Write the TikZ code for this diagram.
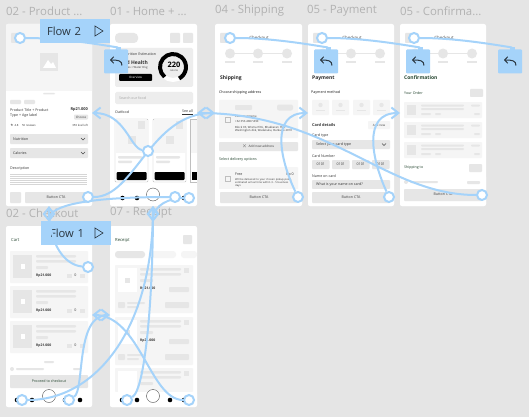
\documentclass[tikz,border=0pt]{standalone}
\usepackage{fontspec}
\setmainfont{Open Sans}
\usetikzlibrary{arrows.meta}

\definecolor{canvasgray}{HTML}{E5E5E5}
\definecolor{blockgray}{HTML}{E6E6E6}
\definecolor{palegray}{HTML}{F5F5F5}
\definecolor{titlegray}{HTML}{B2B2B2}
\definecolor{wireblue}{HTML}{A5D3FA}
\definecolor{inkdark}{HTML}{2A3640}
\definecolor{inkgreen}{HTML}{24452F}

\pgfdeclarelayer{top}
\pgfsetlayers{main,top}

\tikzset{
  screen/.style={fill=white,rounded corners=2pt},
  gb/.style={fill=blockgray,rounded corners=0.8pt},
  pb/.style={fill=palegray,rounded corners=0.8pt},
  ttl/.style={anchor=west,inner sep=0pt,text=titlegray,font=\fontsize{11.4}{12}\selectfont},
  lbl/.style={anchor=west,inner sep=0pt,text=black!80,font=\fontsize{3.6}{4.2}\selectfont},
  lblb/.style={lbl,font=\fontsize{3.9}{4.6}\selectfont\bfseries},
  head/.style={lbl,text=inkgreen,font=\fontsize{5}{6}\selectfont\bfseries},
  btn/.style={inner sep=0pt,text=black!75,font=\fontsize{3.6}{4.2}\selectfont},
  flowbox/.style={fill=wireblue,text=inkdark,minimum width=70pt,minimum height=24pt,inner sep=0pt,
    text width=56pt,font=\fontsize{11.2}{12}\selectfont},
  backbox/.style={fill=wireblue,rounded corners=1pt,minimum width=24pt,minimum height=24pt,inner sep=0pt},
  hub/.style={circle,draw=wireblue,fill=white,line width=2pt,minimum size=10pt,inner sep=0pt},
  wire/.style={draw=wireblue,line width=2pt},
  undosign/.pic={
    \fill[wireblue] (0,-14.5) rectangle (5,-11);
    \draw[inkdark,line width=1pt,-{Straight Barb[length=3pt,width=6.5pt]}] (6,4) .. controls (6,-1) and (2,-1.5) .. (-6,-1.5);
  }
}

\begin{document}
\begin{tikzpicture}[x=1pt,y=-1pt,>={Straight Barb[length=7pt,width=11pt]}]

\fill[canvasgray] (0,0) rectangle (529,417);

% screens
\foreach \xa/\ya/\xb/\yb in {6/24/92/206,110/24/197/206,215/24/302/206,308/24/394/206,400/24/486/206,6/226/92/407,110/226/197/407}
  \fill[screen] (\xa,\ya) rectangle (\xb,\yb);

\node[ttl] (ttlprod) at (6,11) {02 - Product ...};
\node[ttl] (ttlhome) at (110,11) {01 - Home + ...};
\node[ttl] (ttlship) at (215,11) {04 - Shipping};
\node[ttl] (ttlpay) at (307,11) {05 - Payment};
\node[ttl] (ttlconf) at (400,11) {05 - Confirma...};
\node[ttl] (ttlcart) at (6,213) {02 - Checkout};
\node[ttl] (ttlrec) at (110,213) {07 - Receipt};

% product
\fill[palegray] (6,26) -- (6,91) -- (92,91) -- (92,26) [rounded corners=2pt] -- (92,24) -- (6,24) -- cycle;
\fill[gb] (11,33) rectangle (24,43);
\fill[blockgray] (40,53) rectangle (58,71);
\fill[white] (43,68) -- (48,60) -- (51,64) -- (53,62) -- (56,68) -- cycle;
\fill[gb] (43,93) rectangle (55,94.5);
\fill[gb] (10,100) rectangle (21,104);
\fill[gb] (24,100) rectangle (35,104);
\node[lbl] (prodname) at (10,110) {Product Title + Product};
\node[lbl] (prodtype) at (10,115.5) {Type + Age label};
\node[lblb,anchor=east] (prodprice) at (88,110) {Rp21.000};
\fill[gb] (74,114.5) rectangle (88,119.5);
\node[btn,font=\fontsize{3}{3.5}\selectfont] (prodchoose) at (81,117) {Choose};
\node[lbl,font=\fontsize{2.8}{3.5}\selectfont] (prodrate) at (10,125) {$\star$ 4.8 \quad 56 reviews};
\node[lbl,anchor=east,font=\fontsize{2.8}{3.5}\selectfont] (prodstock) at (88,125) {350 kcal left};
\foreach \ya/\nm/\tx in {134/nutri/Nutrition,148/calo/Calories}{
  \fill[gb] (10,\ya) rectangle (88,\ya+10);
  \node[lbl] (\nm) at (13,\ya+5) {\tx};
  \draw[black!70,line width=0.4pt] (81,\ya+4) -- (83,\ya+6) -- (85,\ya+4);
}
\node[lbl] (proddesc) at (10,169) {Description};
\foreach \ya in {174,176,178,180,182,184}
  \fill[black!16] (10,\ya) rectangle (87,\ya+0.8);
\fill[screen] (6,189) rectangle (92,206);
\fill[gb] (10,192) rectangle (21,203);
\fill[gb] (25,192) rectangle (88,203);
\node[btn] (prodcta) at (56,197.5) {Button CTA};

% home
\fill[gb,rounded corners=4pt] (115,33) rectangle (138,43);
\fill[gb] (170,33) rectangle (180,43);
\fill[gb] (183,33) rectangle (193,43);
\fill[blockgray!70,rounded corners=1.5pt] (115,48) rectangle (193,87);
\node[lbl] (homeest) at (122,54) {Nutrition Estimation};
\node[lblb,anchor=east,font=\fontsize{5}{6}\selectfont\bfseries] (homegood) at (148,63) {Good Health};
\node[lbl,font=\fontsize{2.8}{3.5}\selectfont] (homesub) at (120,68) {Calories + Water 8 kg};
\fill[black,rounded corners=1pt] (119,74) rectangle (152,81);
\node[btn,text=white,font=\fontsize{3}{3.5}\selectfont] (homeover) at (135.5,77.5) {Overview};
\draw[white,line width=4pt] (173,67) circle [radius=13pt];
\draw[black,line width=4pt] (173,67) ++(230:13pt) arc [start angle=230,end angle=-62,radius=13pt];
\node[inner sep=0pt,font=\fontsize{7.5}{8}\selectfont\bfseries] (homecal) at (174,65) {220};
\node[btn,font=\fontsize{2.6}{3}\selectfont] (homeunit) at (174,71) {calorie};
\fill[blockgray!70,rounded corners=1.5pt] (115,92) rectangle (193,104);
\node[lbl,text=black!35] (homesearch) at (119,98) {Search our food};
\node[lbl] (homeoat) at (115,112) {Oatfood};
\node[lbl,anchor=east] (homesee) at (193,112) {\underline{See all}};
\foreach \xa/\xb in {115/148,153/186}{
  \draw[black!25,line width=0.4pt,rounded corners=1pt] (\xa,119) rectangle (\xb,182);
  \fill[palegray] (\xa+0.5,119.5) rectangle (\xb-0.5,153);
  \fill[blockgray] (\xb-10,121) rectangle (\xb-3,129);
  \fill[blockgray] (\xa+13,136) rectangle (\xa+21,144);
  \fill[gb] (\xa+3,156) rectangle (\xb-6,158.5);
  \fill[gb] (\xa+3,160.5) rectangle (\xa+17,163);
  \fill[black,rounded corners=1pt] (\xa+1.5,172) rectangle (\xb-1.5,180);
}
\draw[black!25,line width=0.4pt] (197,119) -- (190,119) -- (190,182) -- (197,182);
\fill[palegray] (190.5,119.5) rectangle (197,153);
\fill[black] (191.5,172) rectangle (197,180);
\foreach \xa in {122.5,137,175,184}
  \fill[black] (\xa,198) circle [radius=2.3pt];
\draw[black!70,fill=white,line width=0.4pt] (153,194.5) circle [radius=6.5pt];

% checkout header, shared by three screens
\foreach \fx/\nm in {215/ship,308/pay,400/conf}{
  \begin{scope}[shift={(\fx,0)}]
    \fill[gb] (5,33) rectangle (18,43);
    \node[btn,font=\fontsize{4.4}{5}\selectfont] (chk\nm) at (44,38) {Checkout};
    \draw[blockgray,line width=0.6pt] (15,53.5) -- (72,53.5);
    \foreach \xa in {15,43,72}{
      \fill[blockgray] (\xa,53.5) circle [radius=5pt];
      \fill[blockgray] (\xa-5,61.5) rectangle (\xa+5,63.5);
    }
  \end{scope}
}

% shipping
\node[head,text=black!85] (shiphead) at (220,78) {Shipping};
\node[lbl,text=black!90] (shipaddr) at (219,93) {Choose shipping address};
\fill[pb] (219,100) rectangle (298,138);
\fill[gb] (235,105) rectangle (252,110);
\fill[gb,rounded corners=2pt] (277,104.5) rectangle (293,110.5);
\draw[black!25,line width=0.4pt] (225,117) rectangle (230,122);
\node[lbl,font=\fontsize{2.8}{3.5}\selectfont] (shipname) at (235,116.5) {Customer Name};
\node[lbl,font=\fontsize{2.8}{3.5}\selectfont] (shipphone) at (235,121.5) {+62 353-4867-890};
\node[lbl,font=\fontsize{2.8}{3.3}\selectfont,text width=58pt,anchor=north west] (shipstreet) at (235,126) {Block 03, Wisma Elmi, Bhakkaran Hya, Washington dkk, Wadakuku, Burkudu 2010};
\fill[gb] (219,142) rectangle (298,151);
\node[btn,font=\fontsize{3.2}{4}\selectfont] (shipnew) at (258,146.5) {$\times$\, Add new address};
\node[lbl,text=inkgreen] (shipopt) at (219,160) {Select delivery options};
\fill[pb] (219,167) rectangle (298,190);
\draw[black!25,line width=0.4pt] (225,176) rectangle (230,181);
\node[lbl] (shipfree) at (235,174.5) {Free};
\node[lbl,anchor=east] (shiprp) at (294,174.5) {Rp 0};
\node[lbl,font=\fontsize{2.6}{3.2}\selectfont,text width=58pt,anchor=north west] (shipnote) at (235,178) {Will be delivered to your chosen pickup point, estimated arrival time within 3 - 5 business days};
\fill[screen] (215,189) rectangle (302,206);
\fill[gb] (220,192) rectangle (298,203);
\node[btn] (ctaship) at (259,197.5) {Button CTA};

% payment
\node[head,text=black!85] (payhead) at (312,78) {Payment};
\node[lbl,text=black!90] (paymeth) at (311,93) {Payment method};
\foreach \xa in {312,332,353,373}{
  \fill[pb] (\xa,100) rectangle (\xa+17,115);
  \fill[blockgray] (\xa+8.5,105) circle [radius=2.2pt];
  \fill[blockgray] (\xa+4,109.5) rectangle (\xa+13,111);
}
\node[lblb] (paydet) at (312,125) {Card details};
\fill[pb] (368,121) rectangle (390,129);
\node[btn,font=\fontsize{3}{3.5}\selectfont] (paynew) at (379,125) {Add new};
\node[lbl] (paytype) at (312,136) {Card type};
\fill[gb] (312,140) rectangle (390,149);
\node[lbl] (payselect) at (316,144.5) {Select your card type};
\draw[black!70,line width=0.4pt] (382,143.5) -- (384,145.5) -- (386,143.5);
\node[lbl] (paynum) at (312,156) {Card Number};
\foreach \xa/\nm in {312/a,332/b,352/c,372/d}{
  \fill[gb] (\xa,160) rectangle (\xa+17.5,169);
  \node[btn] (paydig\nm) at (\xa+8.75,164.5) {0101};
}
\node[lbl] (payname) at (312,176) {Name on card};
\fill[gb] (312,180) rectangle (390,189);
\node[lbl] (payask) at (316,184.5) {What is your name on card?};
\fill[screen] (308,189) rectangle (394,206);
\fill[gb] (312,192) rectangle (390,203);
\node[btn] (ctapay) at (351,197.5) {Button CTA};

% confirmation
\node[head] (confhead) at (404,78) {Confirmation};
\node[lbl,text=inkgreen] (conford) at (404,93) {Your Order};
\fill[gb] (470,89) rectangle (483,97);
\foreach \ya in {102,122,142}{
  \fill[pb] (404,\ya) rectangle (482,\ya+16);
  \fill[blockgray] (407,\ya+3) rectangle (416,\ya+13);
  \fill[gb] (421,\ya+2.5) rectangle (464,\ya+4.5);
  \fill[gb] (421,\ya+6) rectangle (464,\ya+8);
  \fill[gb] (421,\ya+11) rectangle (431,\ya+13);
  \fill[gb] (435,\ya+11) rectangle (441,\ya+13);
  \fill[gb] (471,\ya+2.5) rectangle (480,\ya+4.5);
  \fill[gb] (474,\ya+11) rectangle (480,\ya+13);
}
\node[lbl,text=inkgreen] (confto) at (404,168) {Shipping to};
\fill[gb] (469,164) rectangle (482,172);
\fill[screen] (400,175) rectangle (486,206);
\fill[blockgray] (406,182) circle [radius=2pt];
\fill[gb] (410,181) rectangle (438,183);
\fill[gb] (467,181) rectangle (480,184);
\fill[gb] (404,189) rectangle (482,201);
\node[btn] (ctaconf) at (443,194.5) {Button CTA};

% cart
\node[lbl,text=inkgreen,font=\fontsize{4.2}{5}\selectfont] (carthead) at (11,240) {Cart};
\foreach \ya/\nm in {251/a,286/b,321/c}{
  \fill[pb] (10,\ya) rectangle (88,\ya+32);
  \fill[blockgray] (13,\ya+4) rectangle (32,\ya+27);
  \fill[white] (20.5,\ya+13) rectangle (25,\ya+17.5);
  \fill[gb] (36,\ya+4) rectangle (76,\ya+6.5);
  \fill[gb] (36,\ya+9) rectangle (76,\ya+11.5);
  \fill[gb] (36,\ya+15) rectangle (48,\ya+18);
  \node[lblb,font=\fontsize{3.4}{4}\selectfont\bfseries] (cartrp\nm) at (36,\ya+24.5) {Rp21.000};
  \fill[blockgray] (67,\ya+22.5) rectangle (72,\ya+27);
  \node[btn] (cartqty\nm) at (75.5,\ya+24.7) {0};
  \fill[blockgray] (80,\ya+22.5) rectangle (85,\ya+27);
}
\fill[screen] (6,360) rectangle (92,407);
\fill[gb] (44,361) rectangle (54,363);
\fill[blockgray] (12,369) circle [radius=2pt];
\fill[gb] (16,368) rectangle (44,370);
\fill[gb] (73,368) rectangle (81,370);
\fill[gb] (10,375) rectangle (88,388);
\node[btn,text=inkgreen] (cartcta) at (49,381.5) {Proceed to checkout};
\foreach \xa in {17,32,65,80}
  \fill[black] (\xa,400) circle [radius=2.3pt];
\draw[black!70,fill=white,line width=0.4pt] (49,396) circle [radius=6.5pt];

% receipt
\node[lbl,text=inkgreen,font=\fontsize{4.2}{5}\selectfont] (rechead) at (115,240) {Receipt};
\fill[gb] (183,235) rectangle (192,244);
\fill[gb,rounded corners=3pt] (115,251) rectangle (145,258);
\fill[pb,rounded corners=3pt] (150,251) rectangle (176,258);
\fill[pb,rounded corners=3pt] (181,251) rectangle (197,258);
\foreach \ya/\nm in {265/a,317/b}{
  \fill[pb] (115,\ya) rectangle (193,\ya+48);
  \fill[white] (118,\ya+3) rectangle (137,\ya+27);
  \fill[blockgray] (125,\ya+13) rectangle (130,\ya+18);
  \fill[gb] (140,\ya+3) rectangle (181,\ya+5.5);
  \fill[gb] (140,\ya+8) rectangle (181,\ya+10.5);
  \fill[gb] (140,\ya+14) rectangle (153,\ya+17);
  \fill[blockgray] (184,\ya+3) rectangle (189,\ya+8);
  \node[lblb,font=\fontsize{3.4}{4}\selectfont\bfseries] (recrp\nm) at (140,\ya+24) {Rp21.000};
  \fill[gb] (169,\ya+22) rectangle (189,\ya+27);
  \fill[gb] (118,\ya+37) rectangle (125,\ya+43);
  \fill[gb] (127,\ya+37) rectangle (145,\ya+39);
  \fill[gb] (127,\ya+41) rectangle (139,\ya+43);
  \fill[gb] (165,\ya+37) rectangle (189,\ya+43);
}
\fill[pb] (115,368) rectangle (193,392);
\fill[white] (118,371) rectangle (137,392);
\fill[gb] (140,371) rectangle (181,373.5);
\fill[gb] (140,376) rectangle (181,378.5);
\fill[gb] (140,382) rectangle (153,385);
\fill[blockgray] (184,371) rectangle (189,376);
\fill[screen] (110,392) rectangle (197,407);
\foreach \xa in {122,137,170,184}
  \fill[black] (\xa,400) circle [radius=2.3pt];
\draw[black!70,fill=white,line width=0.4pt] (153,396) circle [radius=6.5pt];

% flow labels, back boxes
\node[flowbox] (flowtwo) at (75,31) {Flow 2};
\draw[inkdark,line width=0.6pt] (95,26) -- (103,31) -- (95,36) -- cycle;
\node[flowbox] (flowone) at (76,233) {\hspace*{2pt}Flow 1};
\draw[inkdark,line width=0.6pt] (95,228) -- (103,233) -- (95,238) -- cycle;

\node[backbox] (backhome) at (116,61.5) {};
\node[backbox] (backpay) at (326,61.5) {};
\node[backbox] (backconf) at (418,61.5) {};
\node[backbox] (backend) at (510,61.5) {};
\pic (undohome) at (backhome) {undosign};
\pic (undopay) at (backpay) {undosign};
\pic (undoconf) at (backconf) {undosign};
\pic (undoend) at (backend) {undosign};

% hotspots
\begin{pgfonlayer}{top}
\node[hub] (hubprodback) at (20,38) {};
\node[hub] (hubshipback) at (230,38) {};
\node[hub] (hubpayback) at (322,38) {};
\node[hub] (hubconfback) at (414,38) {};
\node[hub] (hubfood) at (148,151) {};
\node[hub] (hubprodcta) at (88,197) {};
\node[hub] (hubshipcta) at (298,197) {};
\node[hub] (hubpaycta) at (389,197) {};
\node[hub] (hubconfcta) at (482,195) {};
\node[hub] (hubhomeb) at (175,197) {};
\node[hub] (hubhomec) at (189,198) {};
\node[hub] (hubcart) at (88,267) {};
\node[hub] (hubcarta) at (22,400) {};
\node[hub] (hubcartb) at (69,400) {};
\node[hub] (hubreca) at (127,400) {};
\node[hub] (hubrecb) at (189,400) {};
\end{pgfonlayer}

\coordinate (prodright) at (92,113);
\coordinate (homeright) at (197,113);
\coordinate (shipleft) at (215,113);
\coordinate (payleft) at (308,113);
\coordinate (confleft) at (400,113);
\coordinate (cartleft) at (92,315);
\coordinate (recleft) at (110,315);
\coordinate (prodbot) at (49,206);
\coordinate (cartop) at (49,222);
\coordinate (homebot) at (153,206);
\coordinate (rectop) at (153,222);

% connectors
\draw[wire] (hubprodback) .. controls (55,38) and (85,42) .. (118,47.5);
\draw[wire] (hubshipback) .. controls (265,38) and (295,42) .. (328,47.5);
\draw[wire] (hubpayback) .. controls (357,38) and (387,42) .. (420,47.5);
\draw[wire] (hubconfback) .. controls (449,38) and (479,42) .. (512,47.5);
\draw[wire,->] (hubfood) .. controls (130,148) and (125,113) .. (prodright);
\draw[wire,->] (hubprodcta) .. controls (135,197) and (150,113) .. (shipleft);
\draw[wire,->] (hubshipcta) .. controls (280,160) and (270,113) .. (payleft);
\draw[wire,->] (hubpaycta) .. controls (372,160) and (362,113) .. (confleft);
\draw[wire,->] (hubconfcta) .. controls (385,195) and (330,113) .. (homeright);
\draw[wire,->] (hubhomeb) .. controls (120,197) and (49,200) .. (cartop);
\draw[wire,->] (hubhomec) .. controls (170,198) and (153,205) .. (rectop);
\draw[wire,->] (hubcart) .. controls (65,265) and (49,245) .. (prodbot);
\draw[wire,->] (hubcarta) .. controls (95,400) and (153,330) .. (homebot);
\draw[wire,->] (hubreca) .. controls (145,390) and (153,300) .. (homebot);
\draw[wire,->] (hubcartb) .. controls (85,390) and (75,315) .. (recleft);
\draw[wire,->] (hubrecb) .. controls (150,400) and (140,315) .. (cartleft);

\end{tikzpicture}
\end{document}
